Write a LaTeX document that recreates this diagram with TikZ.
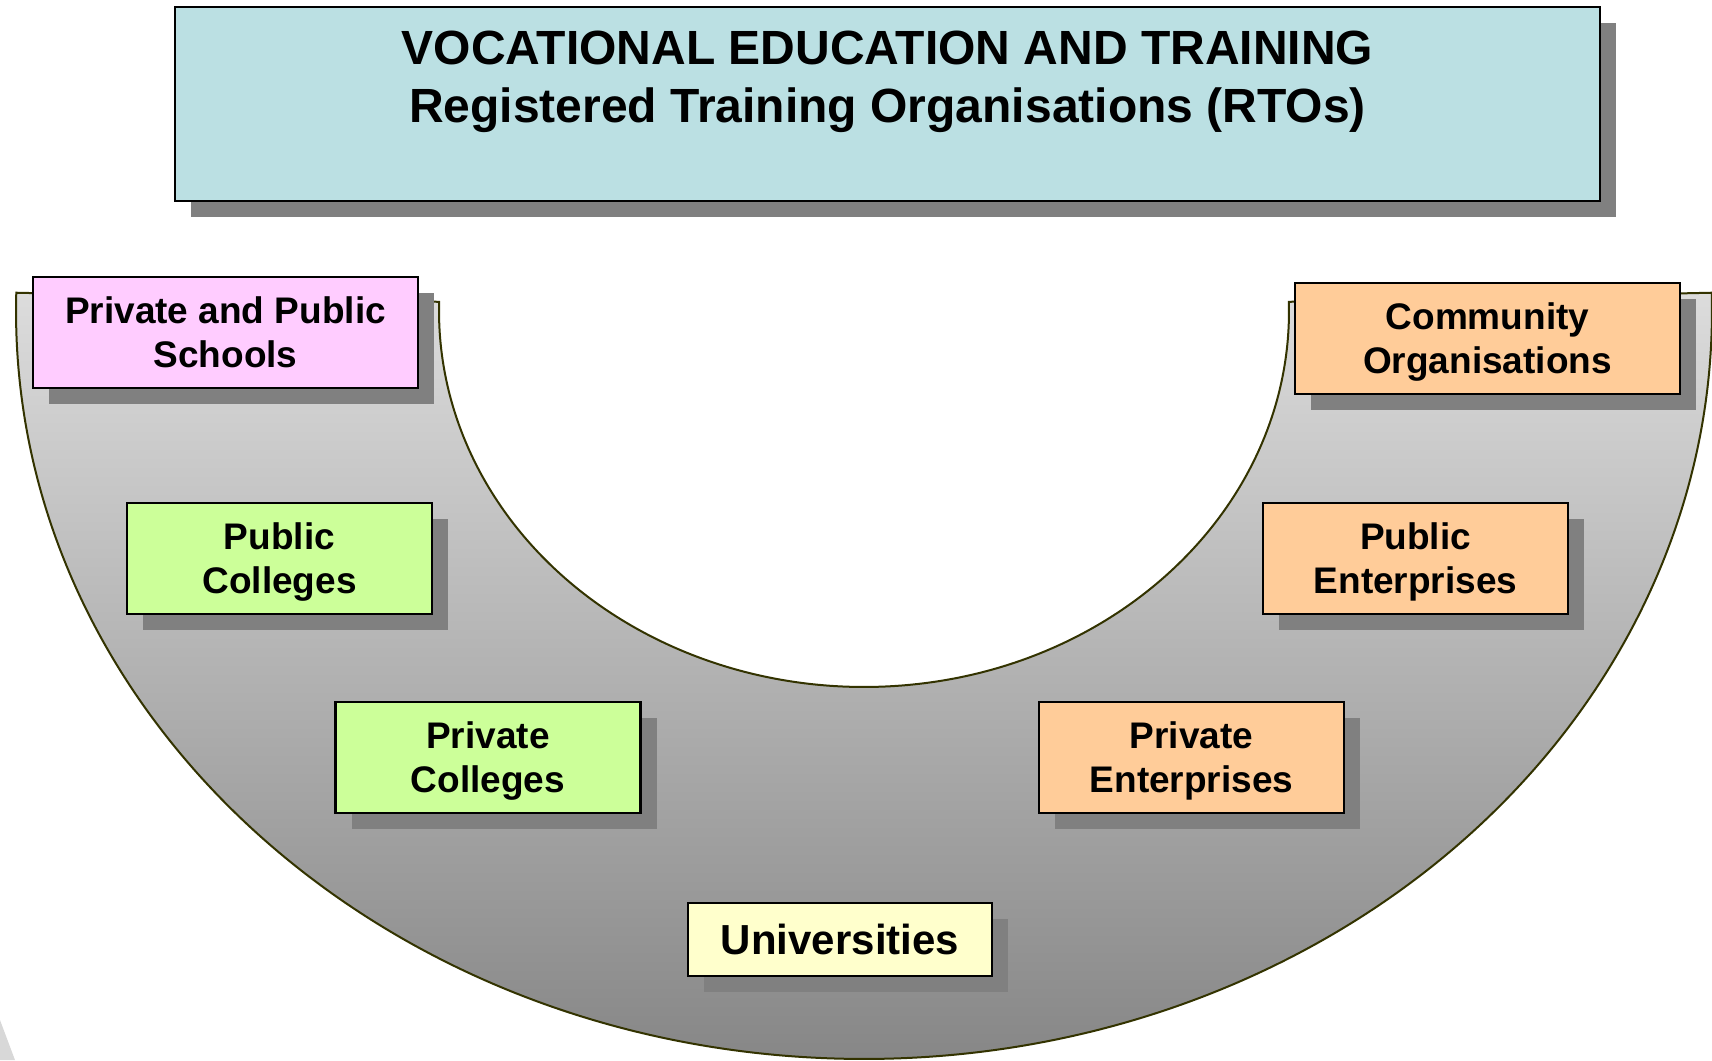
\documentclass[tikz,border=0pt]{standalone}
\usepackage{fontspec}
\setmainfont{Liberation Sans}
\usepackage{tikz}
\usetikzlibrary{shadows}
\usetikzlibrary{positioning}
\definecolor{titleblue}{RGB}{187,224,227}
\definecolor{schoolpink}{RGB}{255,204,255}
\definecolor{collegegreen}{RGB}{204,255,153}
\definecolor{enterpriseorange}{RGB}{255,204,153}
\definecolor{unicream}{RGB}{255,255,204}
\definecolor{shadowgray}{RGB}{128,128,128}
\definecolor{arctop}{RGB}{220,220,220}
\definecolor{arcbot}{RGB}{134,134,134}
\definecolor{arcedge}{RGB}{51,51,0}
\definecolor{cornergray}{RGB}{216,216,216}
% two lines, with room above the first and below the second
\newcommand{\twolines}[2]{\rule{0pt}{35pt}#1\\#2\rule[-8pt]{0pt}{8pt}}
\tikzset{
    orgbox/.style={draw=black, line width=2.5pt, align=center, inner sep=0pt,
        font=\fontsize{37}{44}\selectfont\bfseries,
        drop shadow={shadow xshift=16pt, shadow yshift=-16pt, fill=shadowgray, opacity=1}},
    widebox/.style={orgbox, minimum width=385pt, minimum height=111pt},
    smallbox/.style={orgbox, minimum width=305pt, minimum height=111pt},
    titlebox/.style={draw=black, line width=2.5pt, fill=titleblue,
        minimum width=1425pt, minimum height=194pt,
        drop shadow={shadow xshift=16pt, shadow yshift=-16pt, fill=shadowgray, opacity=1}},
    titletext/.style={align=center, inner sep=0pt, anchor=north,
        font=\fontsize{48}{58}\selectfont\bfseries},
    unibox/.style={orgbox, fill=unicream, minimum width=304pt, minimum height=73pt,
        font=\fontsize{42}{50}\selectfont\bfseries},
}
\begin{document}
\begin{tikzpicture}[x=1pt, y=1pt]
	\useasboundingbox (0,0) rectangle (1712,1060);
	% half ring behind the boxes
	\fill[cornergray] (0,0) -- (0,40) -- (15,0) -- cycle;
	\coordinate (ctr) at (864,749);
	\path[draw=arcedge, line width=2pt, top color=arctop, bottom color=arcbot]
		([shift={(178.6:848 and 748)}]ctr) arc[start angle=178.6, end angle=361.4, x radius=848, y radius=748]
		-- ([shift={(1.4:425 and 376)}]ctr) arc[start angle=1.4, end angle=-181.4, x radius=425, y radius=376]
		-- cycle;
	% heading
	\node[titlebox] (title) at (887.5,956) {};
	\node[titletext] (heading) at ([yshift=-25pt]title.north)
		{VOCATIONAL EDUCATION AND TRAINING\\Registered Training Organisations (RTOs)};
	% providers
	\node[widebox, fill=schoolpink] (schools) at (225.5,727.5) {\twolines{Private and Public}{Schools}};
	\node[widebox, fill=enterpriseorange] (community) at (1487.5,721.5) {\twolines{Community}{Organisations}};
	\node[smallbox, fill=collegegreen] (pubcol) at (279.5,501.5) {\twolines{Public}{Colleges}};
	\node[smallbox, fill=collegegreen] (privcol) at (488,302.5) {\twolines{Private}{Colleges}};
	\node[smallbox, fill=enterpriseorange] (pubent) at (1415.5,501.5) {\twolines{Public}{Enterprises}};
	\node[smallbox, fill=enterpriseorange] (privent) at (1191.5,302.5) {\twolines{Private}{Enterprises}};
	\node[unibox] (unis) at (840,120.5) {Universities};
\end{tikzpicture}
\end{document}
